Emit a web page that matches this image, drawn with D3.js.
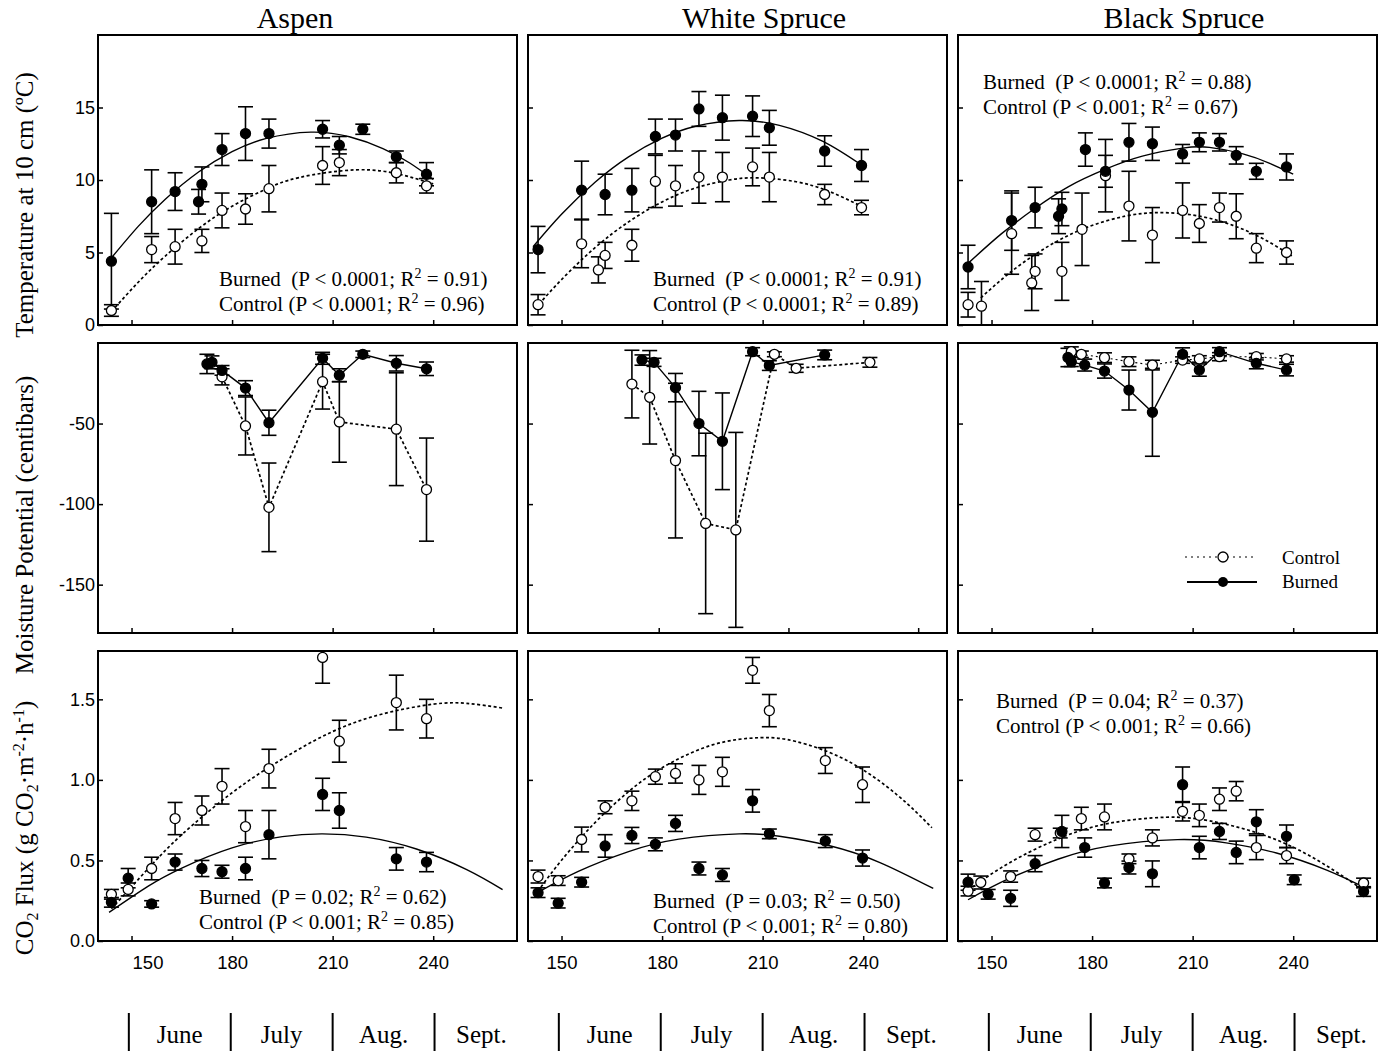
<!DOCTYPE html>
<html>
<head>
<meta charset="utf-8">
<script src="https://cdn.jsdelivr.net/npm/d3@7"></script>
<style>
  body { margin: 0; background: #fff; }
  .stat { white-space: pre; }
</style>
</head>
<body>
<div id="chart"></div>
<script>
// ---- data: [day of year, mean, standard error] ----
const aspenTempBurned = [[144,4.4,3.3],[156,8.5,2.2],[163,9.2,1.3],[170,8.5,0.85],[171,9.7,1.2],[177,12.1,1.1],[184,13.2,1.85],[191,13.2,1.0],[207,13.5,0.6],[212,12.4,0.6],[219,13.5,0.35],[229,11.6,0.4],[238,10.4,0.8]];
const aspenTempControl = [[144,1.0,0.4],[156,5.2,0.9],[163,5.4,1.2],[171,5.8,0.8],[177,7.9,1.2],[184,8.0,1.05],[191,9.4,1.6],[207,11.0,1.3],[212,11.2,0.9],[229,10.5,0.7],[238,9.6,0.5]];
const aspenTempBurnedFit = [[144,4.63],[152,6.8],[160,8.66],[170,10.55],[180,11.95],[190,12.85],[203.5,13.3],[215,12.98],[225,12.17],[233,11.17],[240,10.04]];
const aspenTempControlFit = [[144,0.92],[152,2.95],[160,4.74],[170,6.65],[180,8.19],[190,9.36],[200,10.17],[217,10.7],[230,10.39],[240,9.73]];

const wsTempBurned = [[143,5.2,1.6],[156,9.3,2.0],[163,9.0,1.4],[171,9.3,1.5],[178,13.0,1.2],[184,13.1,1.1],[191,14.9,1.2],[198,14.3,1.55],[207,14.4,1.4],[212,13.6,1.2],[228.5,12.0,1.05],[239.5,11.0,1.1]];
const wsTempControl = [[143,1.4,0.7],[156,5.6,1.65],[161,3.8,0.9],[163,4.8,0.9],[171,5.5,1.1],[178,9.9,1.8],[184,9.6,1.4],[191,10.2,1.8],[198,10.2,1.7],[207,10.9,1.3],[212,10.2,1.7],[228.5,9.0,0.7],[239.5,8.1,0.5]];
const wsTempBurnedFit = [[141.5,5.4],[150,7.64],[160,9.85],[170,11.6],[180,12.88],[190,13.71],[203,14.1],[215,13.77],[228,12.66],[240,10.95]];
const wsTempControlFit = [[143.3,1.44],[150,3.13],[160,5.33],[170,7.11],[180,8.49],[190,9.45],[200,10.0],[208.5,10.15],[220,9.88],[230,9.2],[239.5,8.18]];

const bsTempBurned = [[143,4.0,1.5],[156,7.2,2.05],[163,8.1,1.4],[170,7.5,1.2],[171,8.0,1.15],[178,12.1,1.15],[184,10.6,1.1],[191,12.6,1.3],[198,12.5,1.15],[207,11.8,0.65],[212,12.6,0.65],[218,12.6,0.6],[223,11.7,0.6],[229,10.6,0.55],[238,10.9,0.9]];
const bsTempControl = [[143,1.4,0.85],[147,1.3,1.7],[156,6.3,2.8],[162,2.9,1.9],[163,3.7,1.2],[171,3.7,2.0],[177,6.6,2.5],[184,10.3,2.5],[191,8.2,2.4],[198,6.2,1.9],[207,7.9,1.9],[212,7.0,1.3],[218,8.1,1.0],[223,7.5,1.55],[229,5.3,1.0],[238,5.0,0.8]];
const bsTempBurnedFit = [[143,4.25],[153,6.3],[163,8.05],[173,9.55],[184,10.75],[195,11.65],[207,12.2],[215,12.25],[225,11.8],[233,11.15],[240,10.4]];
const bsTempControlFit = [[146.8,1.87],[155,3.52],[165,5.16],[177,6.6],[190,7.51],[201,7.75],[212,7.51],[222,6.87],[231,5.95],[240,4.71]];

const aspenMoistBurned = [[172.5,-13,6],[174,-12,4],[177,-17,3],[184,-28,4.6],[191,-49.5,7.8],[207,-9.5,3.7],[212,-20,4],[219,-7,2],[229,-12.6,4.8],[238,-16,4.2]];
const aspenMoistControl = [[177,-21,5],[184,-51.5,18],[191,-102,27.5],[207,-24,17],[212,-49,25],[229,-53.5,35],[238,-91,32]];

const wsMoistBurned = [[174,-10.6,3.2],[177.6,-12,2.5],[184,-27.7,8.8],[191,-50,20],[198,-61,30],[207,-5.4,2.5],[212,-14,3],[228.5,-7.4,3]];
const wsMoistControl = [[171,-25.5,21],[176.3,-33.7,29],[184,-73,48],[193,-112,56],[202,-116,60.5],[213.5,-7,1.5],[220,-15.7,2.5],[242,-12,3]];

const bsMoistBurned = [[172.8,-9,5.7],[173.8,-11.6,3],[177.8,-13.7,3.7],[183.7,-17.4,4.4],[191,-29.2,12.4],[198,-43,27.3],[207,-7,4],[212,-16.8,3.8],[218,-5.4,2.5],[229,-12.6,3.4],[238,-16.8,3.6]];
const bsMoistControl = [[173.8,-5.4,3],[176.8,-7,2],[183.7,-9.1,3],[191,-11.6,3],[198,-13.7,3],[207,-10.6,2],[212,-9.9,2],[218,-8.5,2.5],[229,-8.5,2],[238,-9.9,2]];

const aspenFluxBurned = [[144,0.24,0.03],[149,0.39,0.06],[156,0.23,0.02],[163,0.49,0.05],[171,0.45,0.05],[177,0.43,0.04],[184,0.45,0.07],[191,0.66,0.15],[207,0.91,0.1],[212,0.81,0.11],[229,0.51,0.07],[238,0.49,0.06]];
const aspenFluxControl = [[144,0.29,0.03],[149,0.32,0.04],[156,0.45,0.07],[163,0.76,0.1],[171,0.81,0.09],[177,0.96,0.11],[184,0.71,0.1],[191,1.07,0.12],[207,1.76,0.16],[212,1.24,0.13],[229,1.48,0.17],[238,1.38,0.12]];
const aspenFluxBurnedFit = [[143.3,0.178],[155,0.341],[165,0.453],[180,0.578],[195,0.648],[207,0.665],[220,0.645],[235,0.571],[250,0.443],[260.7,0.319]];
const aspenFluxControlFit = [[144,0.2],[155,0.45],[165,0.66],[180,0.92],[195,1.13],[210,1.3],[225,1.41],[240,1.47],[250,1.475],[261,1.445]];

const wsFluxBurned = [[143,0.3,0.03],[149,0.235,0.03],[156,0.365,0.03],[163,0.59,0.07],[171,0.655,0.05],[178,0.6,0.04],[184,0.73,0.05],[191,0.45,0.04],[198,0.41,0.04],[207,0.87,0.07],[212,0.665,0.03],[228.7,0.62,0.04],[239.8,0.515,0.05]];
const wsFluxControl = [[143,0.4,0.04],[149,0.375,0.03],[156,0.63,0.077],[163,0.83,0.04],[171,0.87,0.06],[178,1.02,0.047],[184,1.04,0.06],[191,1.0,0.09],[198,1.05,0.09],[207,1.68,0.08],[212,1.43,0.1],[228.7,1.12,0.08],[239.8,0.97,0.11]];
const wsFluxBurnedFit = [[142.8,0.3],[155,0.432],[170,0.555],[185,0.632],[203,0.665],[215,0.65],[230,0.591],[245,0.487],[260.9,0.326]];
const wsFluxControlFit = [[142.9,0.308],[150,0.501],[160,0.735],[170,0.927],[180,1.075],[195,1.217],[209.5,1.262],[220,1.238],[235,1.122],[250,0.909],[260.5,0.703]];

const bsFluxBurned = [[143,0.365,0.05],[149,0.29,0.03],[155.7,0.265,0.05],[163,0.48,0.05],[171,0.68,0.1],[177.8,0.58,0.06],[183.7,0.36,0.03],[191,0.456,0.04],[198,0.417,0.08],[207,0.97,0.11],[212,0.58,0.07],[218,0.68,0.05],[223,0.55,0.07],[229,0.74,0.075],[238,0.65,0.07],[240.3,0.38,0.03],[261,0.307,0.03]];
const bsFluxControl = [[143,0.31,0.03],[146.8,0.363,0.04],[155.7,0.4,0.035],[163,0.66,0.04],[170.5,0.67,0.03],[176.8,0.76,0.07],[183.7,0.77,0.08],[191,0.51,0.03],[198,0.64,0.05],[207,0.805,0.06],[212,0.78,0.07],[218,0.88,0.07],[223,0.93,0.06],[229,0.58,0.075],[238,0.53,0.05],[261,0.36,0.03]];
const bsFluxBurnedFit = [[143,0.256],[155,0.385],[170,0.509],[185,0.589],[205.5,0.629],[220,0.609],[235,0.546],[250,0.44],[260.8,0.337]];
const bsFluxControlFit = [[143,0.315],[155,0.481],[170,0.635],[185,0.73],[202,0.768],[215,0.746],[230,0.666],[245,0.528],[260.8,0.319]];

// regression statistics: [text, superscript, text]
const aspenTempStats = [["Burned  (P < 0.0001; R", "2", " = 0.91)"], ["Control (P < 0.0001; R", "2", " = 0.96)"]];
const wsTempStats = [["Burned  (P < 0.0001; R", "2", " = 0.91)"], ["Control (P < 0.0001; R", "2", " = 0.89)"]];
const bsTempStats = [["Burned  (P < 0.0001; R", "2", " = 0.88)"], ["Control (P < 0.001; R", "2", " = 0.67)"]];
const aspenFluxStats = [["Burned  (P = 0.02; R", "2", " = 0.62)"], ["Control (P < 0.001; R", "2", " = 0.85)"]];
const wsFluxStats = [["Burned  (P = 0.03; R", "2", " = 0.50)"], ["Control (P < 0.001; R", "2", " = 0.80)"]];
const bsFluxStats = [["Burned  (P = 0.04; R", "2", " = 0.37)"], ["Control (P < 0.001; R", "2", " = 0.66)"]];

// axes
const dayDomain = [140, 265];
const dayTicks = [150, 180, 210, 240];
const wsMoistDayTicks = [179, 217.7, 256.4];
const tempDomain = [0, 20], tempTicks = [0, 5, 10, 15];
const moistDomain = [-180, 0], moistTicks = [-50, -100, -150];
const fluxDomain = [0, 1.8], fluxTicks = [0, 0.5, 1.0, 1.5];
const columnTitles = ["Aspen", "White Spruce", "Black Spruce"];
const months = ["June", "July", "Aug.", "Sept."];
const monthBreaks = [149.2, 179.6, 210, 240.4];

// ---- layout ----
const W = 419, H = 290;
const colLeft = [98, 528, 958];
const rowTop = [35, 343, 651];
const titleX = [295, 764, 1184];
const serif = "'Liberation Serif', 'Times New Roman', serif";
const sans = "'Liberation Sans', Arial, Helvetica, sans-serif";

const svg = d3.select("#chart").append("svg")
  .attr("width", 1381).attr("height", 1051)
  .style("background", "#fff");

const rows = [
  {domain: tempDomain, ticks: tempTicks, fmt: d => String(d)},
  {domain: moistDomain, ticks: moistTicks, fmt: d => String(d)},
  {domain: fluxDomain, ticks: fluxTicks, fmt: d3.format(".1f")}
];

const panels = [
  {row: 0, col: 0, burned: aspenTempBurned, control: aspenTempControl, burnedFit: aspenTempBurnedFit, controlFit: aspenTempControlFit, stats: aspenTempStats, statPos: [121, 251]},
  {row: 0, col: 1, burned: wsTempBurned, control: wsTempControl, burnedFit: wsTempBurnedFit, controlFit: wsTempControlFit, stats: wsTempStats, statPos: [125, 251]},
  {row: 0, col: 2, burned: bsTempBurned, control: bsTempControl, burnedFit: bsTempBurnedFit, controlFit: bsTempControlFit, stats: bsTempStats, statPos: [25, 54]},
  {row: 1, col: 0, burned: aspenMoistBurned, control: aspenMoistControl, connect: true},
  {row: 1, col: 1, burned: wsMoistBurned, control: wsMoistControl, connect: true, xTicks: wsMoistDayTicks},
  {row: 1, col: 2, burned: bsMoistBurned, control: bsMoistControl, connect: true, fineDots: true, legend: true},
  {row: 2, col: 0, burned: aspenFluxBurned, control: aspenFluxControl, burnedFit: aspenFluxBurnedFit, controlFit: aspenFluxControlFit, stats: aspenFluxStats, statPos: [101, 253], shiftFirstLabel: 16},
  {row: 2, col: 1, burned: wsFluxBurned, control: wsFluxControl, burnedFit: wsFluxBurnedFit, controlFit: wsFluxControlFit, stats: wsFluxStats, statPos: [125, 257]},
  {row: 2, col: 2, burned: bsFluxBurned, control: bsFluxControl, burnedFit: bsFluxBurnedFit, controlFit: bsFluxControlFit, stats: bsFluxStats, statPos: [38, 57]}
];

const R = 5, CAP = 7.5;

panels.forEach((p, i) => {
  const r = rows[p.row];
  const x = d3.scaleLinear().domain(dayDomain).range([0, W]);
  const y = d3.scaleLinear().domain(r.domain).range([H, 0]);
  const g = svg.append("g")
    .attr("transform", "translate(" + colLeft[p.col] + "," + rowTop[p.row] + ")");

  g.append("clipPath").attr("id", "clip" + i)
    .append("rect").attr("width", W).attr("height", H);

  // x axis, ticks pointing inward
  const xa = g.append("g")
    .attr("transform", "translate(0," + H + ")")
    .call(d3.axisBottom(x).tickValues(p.xTicks || dayTicks).tickSize(-5).tickPadding(15)
      .tickFormat(p.row === 2 ? d3.format("d") : ""))
    .call(a => a.select(".domain").remove())
    .call(a => a.selectAll("line").attr("stroke-width", 1.5))
    .call(a => a.selectAll("text").attr("font-family", sans).attr("font-size", 18.5).attr("fill", "#000"));
  if (p.shiftFirstLabel) {
    xa.select(".tick text").attr("dx", p.shiftFirstLabel);
  }

  // y axis
  g.append("g")
    .call(d3.axisLeft(y).tickValues(r.ticks).tickSize(-5).tickPadding(3)
      .tickFormat(p.col === 0 ? r.fmt : ""))
    .call(a => a.select(".domain").remove())
    .call(a => a.selectAll("line").attr("stroke-width", 1.5))
    .call(a => a.selectAll("text").attr("font-family", sans).attr("font-size", 18).attr("fill", "#000"));

  const plot = g.append("g").attr("clip-path", "url(#clip" + i + ")");

  // fitted curves
  const fitLine = d3.line().x(d => x(d[0])).y(d => y(d[1])).curve(d3.curveNatural);
  if (p.controlFit) {
    plot.append("path").datum(p.controlFit).attr("d", fitLine)
      .attr("fill", "none").attr("stroke", "#000").attr("stroke-width", 1.7).attr("stroke-dasharray", "3,2.5");
  }
  if (p.burnedFit) {
    plot.append("path").datum(p.burnedFit).attr("d", fitLine)
      .attr("fill", "none").attr("stroke", "#000").attr("stroke-width", 1.4);
  }

  // joined series (moisture)
  if (p.connect) {
    const join = d3.line().x(d => x(d[0])).y(d => y(d[1]));
    plot.append("path").datum(p.control).attr("d", join)
      .attr("fill", "none").attr("stroke", "#000")
      .attr("stroke-width", p.fineDots ? 1.1 : 1.7)
      .attr("stroke-dasharray", p.fineDots ? "2,3" : "3,2.5");
    plot.append("path").datum(p.burned).attr("d", join)
      .attr("fill", "none").attr("stroke", "#000").attr("stroke-width", 1.4);
  }

  // error bars
  const bars = plot.append("g").attr("stroke", "#000").attr("stroke-width", 1.6);
  [p.control, p.burned].forEach(series => {
    series.forEach(d => {
      const cx = x(d[0]), y1 = y(d[1] - d[2]), y2 = y(d[1] + d[2]);
      bars.append("line").attr("x1", cx).attr("x2", cx).attr("y1", y1).attr("y2", y2);
      bars.append("line").attr("x1", cx - CAP).attr("x2", cx + CAP).attr("y1", y1).attr("y2", y1);
      bars.append("line").attr("x1", cx - CAP).attr("x2", cx + CAP).attr("y1", y2).attr("y2", y2);
    });
  });

  // points
  plot.append("g").selectAll("circle").data(p.control).join("circle")
    .attr("cx", d => x(d[0])).attr("cy", d => y(d[1])).attr("r", R)
    .attr("fill", "#fff").attr("stroke", "#000").attr("stroke-width", 1.3);
  plot.append("g").selectAll("circle").data(p.burned).join("circle")
    .attr("cx", d => x(d[0])).attr("cy", d => y(d[1])).attr("r", R)
    .attr("fill", "#000").attr("stroke", "#000").attr("stroke-width", 1.3);

  // regression statistics
  if (p.stats) {
    p.stats.forEach((s, k) => {
      const t = g.append("text").attr("class", "stat")
        .attr("x", p.statPos[0]).attr("y", p.statPos[1] + k * 25)
        .attr("font-family", serif).attr("font-size", 21);
      t.append("tspan").text(s[0]);
      t.append("tspan").attr("dy", -8).attr("font-size", 14).text(s[1]);
      t.append("tspan").attr("dy", 8).text(s[2]);
    });
  }

  // legend
  if (p.legend) {
    const lg = g.append("g");
    lg.append("line").attr("x1", 227).attr("x2", 295).attr("y1", 214).attr("y2", 214)
      .attr("stroke", "#000").attr("stroke-width", 1.1).attr("stroke-dasharray", "2,4");
    lg.append("circle").attr("cx", 265).attr("cy", 214).attr("r", R)
      .attr("fill", "#fff").attr("stroke", "#000").attr("stroke-width", 1.3);
    lg.append("line").attr("x1", 229).attr("x2", 299).attr("y1", 239).attr("y2", 239)
      .attr("stroke", "#000").attr("stroke-width", 2.2);
    lg.append("circle").attr("cx", 265).attr("cy", 239).attr("r", R).attr("fill", "#000");
    lg.append("text").attr("x", 324).attr("y", 221).attr("font-family", serif).attr("font-size", 19).text("Control");
    lg.append("text").attr("x", 324).attr("y", 245).attr("font-family", serif).attr("font-size", 19).text("Burned");
  }

  // frame
  g.append("rect").attr("width", W).attr("height", H)
    .attr("fill", "none").attr("stroke", "#000").attr("stroke-width", 2);
});

// column titles
columnTitles.forEach((t, c) => {
  svg.append("text").attr("x", titleX[c]).attr("y", 28)
    .attr("text-anchor", "middle").attr("font-family", serif).attr("font-size", 30).text(t);
});

// y axis titles
const yTitle = (cy) => svg.append("text")
  .attr("transform", "translate(33," + cy + ") rotate(-90)")
  .attr("text-anchor", "middle").attr("font-family", serif).attr("font-size", 25);

yTitle(205).text("Temperature at 10 cm (ºC)");
yTitle(525).text("Moisture Potential (centibars)");
const co2 = yTitle(828);
co2.append("tspan").text("CO");
co2.append("tspan").attr("dy", 5).attr("font-size", 16).text("2");
co2.append("tspan").attr("dy", -5).text(" Flux (g CO");
co2.append("tspan").attr("dy", 5).attr("font-size", 16).text("2");
co2.append("tspan").attr("dy", -5).text("·m");
co2.append("tspan").attr("dy", -9).attr("font-size", 16).text("-2");
co2.append("tspan").attr("dy", 9).text("·h");
co2.append("tspan").attr("dy", -9).attr("font-size", 16).text("-1");
co2.append("tspan").attr("dy", 9).text(")");

// month band below each column
colLeft.forEach(left => {
  const x = d3.scaleLinear().domain(dayDomain).range([left, left + W]);
  const mg = svg.append("g");
  mg.selectAll("line").data(monthBreaks).join("line")
    .attr("x1", d => x(d)).attr("x2", d => x(d))
    .attr("y1", 1013).attr("y2", 1051)
    .attr("stroke", "#000").attr("stroke-width", 2);
  mg.selectAll("text").data(months).join("text")
    .attr("x", (m, k) => k < monthBreaks.length - 1
      ? x((monthBreaks[k] + monthBreaks[k + 1]) / 2)
      : x(monthBreaks[k] + 14))
    .attr("y", 1043)
    .attr("text-anchor", "middle").attr("font-family", serif).attr("font-size", 25)
    .text(m => m);
});
</script>
</body>
</html>
